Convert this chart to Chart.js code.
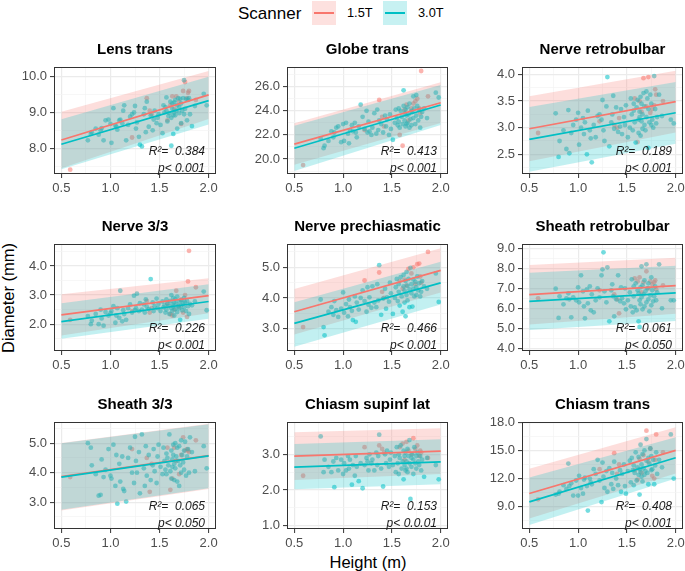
<!DOCTYPE html>
<html>
<head>
<meta charset="utf-8">
<script src="https://cdn.jsdelivr.net/npm/chart.js@4.4.1/dist/chart.umd.min.js"></script>
<style>
  body { margin: 0; width: 685px; height: 571px; overflow: hidden; background: #fff;
         position: relative; font-family: "Liberation Sans", Arial, sans-serif; }
  canvas { position: absolute; }
  .txt { position: absolute; white-space: nowrap; line-height: 1; color: #000; }
  .key { position: absolute; top: 1px; width: 24px; height: 24px; }
  .key span { position: absolute; left: 2px; right: 2px; top: 11px; height: 2px; }
</style>
</head>
<body>
<div class="txt" style="left:238px; top:5px; font-size:17px;">Scanner</div>
<div class="key" style="left:312px; background:rgba(248,118,109,0.22);"><span style="background:#F8766D"></span></div>
<div class="txt" style="left:347px; top:7px; font-size:12.8px;">1.5T</div>
<div class="key" style="left:383px; background:rgba(0,191,196,0.22);"><span style="background:#00BFC4"></span></div>
<div class="txt" style="left:418px; top:7px; font-size:12.8px;">3.0T</div>
<div class="txt" style="left:8px; top:298px; font-size:16.5px; transform:translate(-50%,-50%) rotate(-90deg);">Diameter (mm)</div>
<div class="txt" style="left:368px; top:562px; font-size:16.5px; transform:translate(-50%,-50%);">Height (m)</div>
<div id="grid"></div>
<script>
const panelTitles = ["Lens trans", "Globe trans", "Nerve retrobulbar", "Nerve 3/3", "Nerve prechiasmatic",
  "Sheath retrobulbar", "Sheath 3/3", "Chiasm supinf lat", "Chiasm trans"];

// height (m) of each subject, same for every panel
const height30 = [
  0.77, 0.80, 0.81, 0.85, 0.88, 0.90, 0.91, 0.93, 0.95, 0.98,
  1.00, 1.01, 1.03, 1.05, 1.06, 1.07, 1.09, 1.10, 1.12, 1.13,
  1.14, 1.16, 1.18, 1.20, 1.22, 1.24, 1.25, 1.26, 1.27, 1.29,
  1.30, 1.32, 1.34, 1.35, 1.36, 1.37, 1.39, 1.41, 1.43, 1.44,
  1.45, 1.47, 1.48, 1.49, 1.51, 1.53, 1.54, 1.55, 1.56, 1.57,
  1.57, 1.58, 1.59, 1.60, 1.61, 1.62, 1.62, 1.63, 1.63, 1.64,
  1.64, 1.65, 1.65, 1.66, 1.66, 1.67, 1.68, 1.68, 1.69, 1.70,
  1.70, 1.71, 1.72, 1.72, 1.73, 1.74, 1.75, 1.75, 1.76, 1.77,
  1.78, 1.79, 1.80, 1.81, 1.83, 1.86, 1.95, 1.98];
const height15 = [0.59, 1.22, 1.37, 1.40, 1.42, 1.58, 1.61, 1.63, 1.65, 1.67, 1.70, 1.72, 1.74, 1.76, 1.78, 1.79, 1.80, 1.87];

// diameters (mm), in the order of the heights above
const lensTrans30 = [
  8.22, 8.40, 8.45, 8.55, 8.38, 8.50, 8.56, 8.22, 8.78, 8.80,
  8.68, 8.15, 9.12, 8.63, 8.60, 8.52, 8.78, 8.80, 8.70, 9.05,
  9.20, 8.22, 8.65, 8.88, 8.95, 9.00, 9.18, 8.55, 8.72, 8.32,
  8.10, 8.05, 8.95, 9.12, 8.45, 9.30, 8.60, 8.92, 8.50, 8.80,
  9.05, 8.70, 8.85, 8.95, 8.65, 8.42, 9.20, 9.00, 9.15, 9.42,
  9.05, 8.75, 8.90, 8.98, 9.30, 8.85, 8.07, 9.10, 9.25, 8.92,
  8.40, 9.28, 9.00, 8.92, 9.35, 9.05, 8.55, 9.20, 9.40, 8.98,
  9.15, 9.38, 8.70, 9.25, 9.05, 9.40, 9.90, 8.95, 9.10, 9.38,
  8.78, 9.35, 9.40, 8.95, 8.62, 9.18, 9.52, 9.20];
const lensTrans15 = [7.40, 8.30, 9.40, 9.05, 8.95, 8.78, 9.20, 9.45, 9.10, 9.45, 9.30, 8.68, 9.60, 9.85, 9.40, 9.55, 9.60, 9.35];

const globeTrans30 = [
  21.70, 20.90, 21.10, 21.50, 22.30, 21.80, 22.20, 22.60, 22.70, 21.40,
  22.90, 21.50, 23.00, 22.10, 21.30, 22.40, 22.80, 22.30, 23.00, 22.20,
  21.80, 22.70, 24.50, 23.50, 22.50, 24.00, 22.20, 23.10, 22.30, 22.00,
  22.60, 23.80, 22.10, 24.10, 22.40, 23.20, 22.90, 22.20, 23.60, 22.70,
  23.30, 22.00, 23.70, 22.50, 21.60, 23.00, 24.10, 23.40, 22.80, 24.20,
  23.10, 22.60, 24.00, 23.50, 22.90, 24.40, 25.70, 23.20, 23.80, 22.70,
  24.10, 23.60, 22.90, 24.30, 23.00, 23.70, 22.60, 24.60, 23.30, 24.00,
  22.80, 23.90, 25.20, 23.40, 24.20, 22.90, 25.30, 23.60, 24.40, 23.20,
  24.10, 22.60, 23.50, 23.90, 24.20, 23.40, 25.50, 25.10];
const globeTrans15 = [19.50, 22.40, 24.90, 23.50, 22.70, 22.00, 21.10, 24.10, 24.50, 23.20, 24.20, 24.60, 24.80, 25.00, 24.20, 23.80, 27.30, 25.20];

const nerveRetro30 = [
  3.27, 2.45, 2.75, 2.95, 2.60, 3.33, 2.52, 2.90, 3.05, 3.15,
  3.28, 2.68, 3.00, 3.18, 2.88, 3.10, 2.50, 3.32, 2.95, 2.80,
  2.35, 3.05, 2.82, 3.22, 3.25, 3.15, 3.52, 2.95, 2.75, 3.40,
  3.95, 2.65, 3.10, 3.25, 3.60, 2.98, 3.38, 2.92, 3.02, 3.35,
  2.88, 3.20, 3.05, 3.42, 2.82, 3.00, 3.55, 3.25, 2.95, 3.32,
  3.45, 3.10, 2.72, 3.38, 3.52, 3.15, 2.90, 3.30, 3.20, 2.85,
  3.58, 3.12, 3.45, 2.98, 3.25, 3.65, 3.05, 3.40, 2.95, 3.68,
  3.20, 3.55, 2.62, 3.35, 3.10, 3.62, 3.05, 3.45, 3.15, 3.00,
  3.97, 3.35, 3.08, 3.20, 3.62, 3.22, 3.15, 3.08];
const nerveRetro15 = [2.90, 3.12, 3.05, 3.00, 3.18, 3.55, 2.73, 3.50, 3.30, 3.93, 3.40, 3.95, 3.28, 3.35, 3.42, 3.72, 3.62, 3.50];

const nerve33_30 = [
  2.28, 2.00, 2.12, 2.35, 2.00, 2.50, 2.20, 1.95, 2.42, 2.30,
  2.38, 2.45, 2.62, 2.05, 2.30, 2.55, 2.22, 3.15, 2.10, 2.48,
  2.35, 2.15, 2.55, 2.68, 2.40, 2.98, 2.48, 2.55, 3.05, 2.45,
  2.72, 2.50, 2.68, 2.40, 2.85, 2.60, 2.52, 3.55, 2.75, 2.45,
  2.62, 2.88, 2.55, 2.70, 2.45, 2.78, 2.58, 2.65, 2.40, 2.85,
  2.50, 2.72, 2.62, 2.35, 2.80, 2.55, 3.00, 2.68, 2.45, 2.90,
  2.60, 2.75, 2.30, 2.85, 2.52, 2.70, 2.42, 2.95, 2.62, 2.78,
  2.55, 2.15, 2.82, 2.65, 2.48, 2.72, 2.90, 2.58, 2.75, 2.45,
  2.80, 2.62, 2.35, 2.70, 2.65, 2.78, 3.12, 2.48];
const nerve33_15 = [2.15, 2.45, 2.80, 2.40, 2.55, 2.70, 2.35, 2.30, 2.50, 3.15, 2.60, 2.85, 2.40, 3.00, 2.25, 3.47, 4.52, 3.27];

const nervePrech30 = [
  3.95, 3.05, 2.78, 3.55, 3.70, 3.45, 3.90, 3.60, 3.38, 3.65,
  4.18, 3.52, 3.80, 3.40, 3.95, 3.70, 3.58, 3.28, 4.05, 3.22,
  3.85, 3.62, 4.00, 4.25, 3.90, 3.55, 4.35, 3.78, 4.02, 3.68,
  4.38, 3.85, 3.70, 4.45, 3.92, 5.07, 3.45, 3.98, 4.30, 3.65,
  4.02, 3.88, 4.50, 4.15, 3.48, 4.00, 4.35, 4.62, 3.90, 4.45,
  4.20, 3.75, 4.68, 4.05, 3.55, 4.38, 4.75, 3.85, 4.25, 3.40,
  4.55, 4.10, 4.85, 3.92, 4.40, 4.62, 3.70, 4.28, 4.98, 4.45,
  4.15, 3.72, 4.60, 4.30, 4.05, 4.52, 4.35, 4.10, 4.70, 4.25,
  4.48, 4.05, 4.20, 4.55, 4.38, 4.30, 4.80, 3.87];
const nervePrech15 = [3.05, 4.57, 4.83, 4.20, 4.00, 4.55, 4.30, 4.60, 4.40, 4.95, 4.80, 5.00, 4.45, 5.10, 5.12, 4.70, 4.50, 5.50];

const sheathRetro30 = [
  6.98, 5.52, 6.60, 6.20, 6.50, 6.75, 6.45, 5.55, 6.55, 6.40,
  7.05, 6.30, 7.65, 6.85, 6.10, 5.50, 6.95, 6.25, 7.10, 5.90,
  6.70, 5.80, 6.40, 7.00, 6.55, 7.65, 7.95, 8.80, 6.85, 6.30,
  8.05, 5.35, 6.90, 7.20, 6.60, 5.60, 6.45, 7.65, 6.35, 7.05,
  6.50, 6.25, 7.00, 5.95, 6.40, 6.80, 6.10, 7.45, 5.80, 7.10,
  6.60, 6.05, 7.25, 5.90, 6.90, 5.35, 6.75, 5.07, 6.40, 7.05,
  6.20, 8.10, 6.55, 7.15, 5.95, 6.70, 7.40, 6.10, 6.85, 8.20,
  6.30, 7.00, 6.45, 7.25, 5.85, 6.65, 7.55, 6.15, 6.90, 6.35,
  6.60, 7.10, 6.40, 6.80, 8.20, 6.00, 6.40, 6.40];
const sheathRetro15 = [6.50, 6.90, 6.70, 6.45, 5.75, 7.50, 7.35, 7.55, 6.80, 7.30, 7.85, 7.00, 7.35, 7.20, 7.30, 7.40, 6.95, 7.15];

const sheath33_30 = [
  5.00, 4.85, 4.25, 3.95, 3.22, 3.25, 4.45, 3.85, 4.10, 4.80,
  3.90, 3.80, 4.95, 3.55, 4.60, 2.95, 4.30, 3.70, 4.55, 3.45,
  3.38, 3.02, 4.50, 4.85, 4.00, 3.65, 5.22, 4.40, 4.00, 4.70,
  3.30, 5.30, 4.15, 3.55, 4.90, 3.90, 4.60, 3.75, 4.25, 4.80,
  4.05, 3.65, 4.55, 4.95, 4.20, 3.95, 4.85, 4.40, 4.10, 4.65,
  3.95, 4.50, 4.25, 5.30, 4.05, 4.75, 3.80, 4.45, 4.20, 4.95,
  4.60, 3.75, 4.30, 5.00, 4.15, 4.55, 3.70, 4.85, 4.40, 3.55,
  4.90, 4.25, 5.10, 4.00, 4.60, 4.35, 4.10, 4.75, 5.05, 3.90,
  4.55, 4.80, 4.00, 5.20, 4.70, 4.05, 4.90, 4.15];
const sheath33_15 = [3.85, 4.80, 4.50, 3.35, 4.30, 4.85, 3.42, 3.80, 4.85, 4.40, 3.95, 4.60, 5.20, 4.75, 4.80, 4.75, 4.70, 5.10];

const chiasmSupinf30 = [
  3.50, 2.50, 2.85, 2.65, 2.50, 2.80, 2.08, 2.90, 2.55, 2.85,
  2.45, 2.75, 2.55, 2.95, 2.60, 2.85, 2.15, 2.70, 2.40, 2.95,
  2.65, 2.25, 2.75, 2.05, 2.70, 2.90, 2.80, 2.55, 3.00, 2.75,
  2.85, 2.55, 3.05, 2.70, 2.95, 3.55, 2.60, 2.10, 3.00, 2.75,
  3.10, 2.65, 2.85, 3.05, 2.70, 2.95, 2.50, 3.20, 2.75, 3.00,
  2.45, 2.90, 3.25, 2.60, 2.80, 3.10, 2.30, 2.95, 2.70, 2.55,
  3.05, 2.80, 2.60, 3.15, 2.50, 2.95, 3.40, 2.75, 1.75, 2.90,
  2.65, 3.00, 2.85, 2.45, 3.20, 2.75, 2.95, 2.60, 3.05, 2.80,
  2.70, 2.95, 2.55, 2.85, 2.37, 2.90, 2.70, 2.30];
const chiasmSupinf15 = [2.40, 3.20, 3.25, 3.15, 3.05, 3.20, 3.30, 2.85, 3.35, 3.10, 3.00, 3.45, 3.15, 3.25, 2.95, 3.10, 3.05, 2.90];

const chiasmTrans30 = [
  10.30, 10.40, 10.60, 11.30, 10.90, 13.60, 11.20, 11.50, 10.20, 11.80,
  10.20, 12.30, 11.00, 10.40, 11.90, 12.10, 11.20, 8.60, 12.00, 11.60,
  11.40, 13.00, 12.50, 14.00, 11.80, 9.50, 13.70, 12.20, 11.00, 12.80,
  10.60, 13.10, 11.40, 12.60, 10.90, 13.80, 12.00, 11.30, 12.90, 10.60,
  12.50, 13.50, 11.20, 10.40, 12.80, 13.90, 11.60, 14.20, 12.90, 11.30,
  13.40, 12.60, 14.80, 11.80, 13.20, 12.40, 14.30, 10.30, 13.00, 12.70,
  15.60, 12.20, 13.50, 11.70, 14.60, 13.10, 12.40, 15.00, 12.80, 13.90,
  16.20, 12.60, 14.20, 11.40, 13.60, 15.20, 12.90, 14.40, 13.00, 14.00,
  11.40, 13.40, 14.80, 12.50, 14.00, 13.20, 16.70, 12.00];
const chiasmTrans15 = [9.80, 13.00, 14.70, 12.50, 13.50, 12.90, 11.90, 14.10, 12.60, 14.50, 17.10, 13.80, 15.20, 12.30, 12.00, 14.00, 16.70, 14.80];

const values30 = [lensTrans30, globeTrans30, nerveRetro30, nerve33_30, nervePrech30, sheathRetro30, sheath33_30, chiasmSupinf30, chiasmTrans30];
const values15 = [lensTrans15, globeTrans15, nerveRetro15, nerve33_15, nervePrech15, sheathRetro15, sheath33_15, chiasmSupinf15, chiasmTrans15];

// fitted lines and prediction bands, at height 0.5 and 2.0
const fitX = [0.5, 2.0];
const fit15 = [[8.23, 9.49], [21.24, 24.67], [2.98, 3.49], [2.32, 2.98], [3.55, 4.90], [6.68, 7.13], [3.87, 4.58], [2.95, 3.09], [10.41, 15.00]];
const fit30 = [[8.11, 9.33], [20.89, 24.48], [2.78, 3.28], [2.09, 2.78], [3.17, 4.49], [6.35, 6.77], [3.85, 4.57], [2.64, 2.79], [9.53, 14.22]];
const band15Hi = [[9.02, 10.16], [22.96, 26.36], [3.59, 4.07], [3.03, 3.58], [4.29, 5.62], [8.17, 8.53], [5.01, 5.66], [3.62, 3.73], [13.06, 17.47]];
const band15Lo = [[7.44, 8.82], [19.52, 22.98], [2.37, 2.91], [1.61, 2.38], [2.81, 4.18], [5.19, 5.73], [2.72, 3.45], [2.28, 2.45], [7.76, 12.53]];
const band30Hi = [[8.81, 10.00], [22.77, 26.14], [3.39, 3.86], [2.72, 3.37], [3.86, 5.18], [7.78, 8.13], [5.00, 5.64], [3.29, 3.42], [12.11, 16.41]];
const band30Lo = [[7.41, 8.66], [19.01, 22.82], [2.17, 2.70], [1.50, 2.19], [2.41, 3.79], [4.92, 5.37], [2.74, 3.47], [2.02, 2.16], [7.06, 12.00]];

const r2Labels = ["0.384", "0.413", "0.189", "0.226", "0.466", "0.061", "0.065", "0.153", "0.408"];
const pLabels = ["p< 0.001", "p< 0.001", "p< 0.001", "p< 0.001", "p< 0.001", "p< 0.050", "p< 0.050", "p< 0.0.01", "p< 0.001"];

const xTicks = [0.5, 1.0, 1.5, 2.0];
const xRange = [0.425, 2.075];
const yTicks = [[8, 9, 10], [20, 22, 24, 26], [2.5, 3, 3.5, 4], [2, 3, 4], [3, 4, 5], [4, 5, 6, 7, 8, 9], [3, 4, 5], [1, 2, 3], [9, 12, 15, 18]];
const yRanges = [[7.28, 10.27], [18.76, 27.63], [2.13, 4.14], [1.08, 4.755], [2.27, 5.76], [3.865, 9.215], [2.09, 5.72], [0.91, 3.905], [6.64, 18.02]];

// layout
const RED = "#F8766D", CYAN = "#00BFC4";
const FONT = '"Liberation Sans", Arial, sans-serif';
const colX = [54, 287, 522], colW = [162, 161, 161];
const rowY = [67, 244, 422], plotH = 107;
const AXW = 50, TOP = 30, BOT = 24, RIGHT = 14;

// major ticks plus the ggplot-style minor ones half way between
function withMinor(majors, lo, hi) {
  const half = (majors[1] - majors[0]) / 2;
  const out = [];
  for (let k = -1; k <= 2 * (majors.length - 1) + 1; k++) {
    const v = Math.round((majors[0] + k * half) * 1e6) / 1e6;
    if (v >= lo && v <= hi) out.push({ value: v, minor: k % 2 !== 0 });
  }
  return out;
}

const panelDecor = {
  id: "panelDecor",
  afterDraw(chart, args, opts) {
    const { ctx, chartArea: a } = chart;
    ctx.save();
    ctx.strokeStyle = "#333333";
    ctx.lineWidth = 1;
    ctx.strokeRect(a.left + 0.5, a.top + 0.5, a.right - a.left - 1, a.bottom - a.top - 1);
    ctx.fillStyle = "#000";
    ctx.textAlign = "center";
    ctx.textBaseline = "middle";
    ctx.font = "bold 15px " + FONT;
    ctx.fillText(opts.title, (a.left + a.right) / 2, a.top - 17.5);
    ctx.textAlign = "right";
    ctx.font = "italic 12px " + FONT;
    ctx.fillStyle = "#1a1a1a";
    ctx.fillText("R\u00b2=  " + opts.r2, a.right - 11, a.bottom - 22);
    ctx.fillText(opts.p, a.right - 11, a.bottom - 5.5);
    ctx.restore();
  }
};

const isMinor = c => c.tick && c.tick.minor;
function axis(ticksFn, range, horizontal) {
  return {
    type: "linear",
    min: range[0],
    max: range[1],
    afterBuildTicks: s => { s.ticks = ticksFn(); },
    afterFit: s => {
      if (horizontal) s.height = BOT; else s.width = AXW;
      s.paddingLeft = 0; s.paddingRight = 0; s.paddingTop = 0; s.paddingBottom = 0;
    },
    border: { display: false },
    grid: {
      color: c => isMinor(c) ? "#F3F3F3" : "#EBEBEB",
      lineWidth: c => isMinor(c) ? 0.7 : 1.2,
      tickColor: c => isMinor(c) ? "rgba(0,0,0,0)" : "#333333",
      tickLength: 4,
      tickWidth: 1
    },
    ticks: {
      autoSkip: false,
      maxRotation: 0,
      padding: 3,
      color: "#4D4D4D",
      font: { size: 13, family: FONT },
      callback: (v, i, t) => t[i].minor ? "" : v.toFixed(1)
    }
  };
}

const pts = (xs, ys) => xs.map((x, i) => ({ x: x, y: ys[i] }));
const seg = ys => fitX.map((x, i) => ({ x: x, y: ys[i] }));
const noLine = { showLine: true, borderColor: "rgba(0,0,0,0)", borderWidth: 0, pointRadius: 0 };

const host = document.getElementById("grid");
panelTitles.forEach((title, k) => {
  const col = k % 3, row = Math.floor(k / 3);
  const cv = document.createElement("canvas");
  const w = AXW + colW[col] + RIGHT, h = TOP + plotH + BOT;
  cv.width = w; cv.height = h;
  cv.style.left = (colX[col] - AXW) + "px";
  cv.style.top = (rowY[row] - TOP) + "px";
  cv.style.width = w + "px"; cv.style.height = h + "px";
  host.appendChild(cv);

  new Chart(cv, {
    type: "line",
    data: {
      datasets: [
        { data: pts(height15, values15[k]), showLine: false, pointRadius: 2.4, pointBorderWidth: 0,
          pointBorderColor: "rgba(0,0,0,0)", pointBackgroundColor: "rgba(248,118,109,0.55)", order: 6 },
        { data: pts(height30, values30[k]), showLine: false, pointRadius: 2.4, pointBorderWidth: 0,
          pointBorderColor: "rgba(0,0,0,0)", pointBackgroundColor: "rgba(0,191,196,0.55)", order: 5 },
        Object.assign({ data: seg(band15Hi[k]), fill: "+1", backgroundColor: "rgba(248,118,109,0.24)", order: 4 }, noLine),
        Object.assign({ data: seg(band15Lo[k]), fill: false, order: 4 }, noLine),
        Object.assign({ data: seg(band30Hi[k]), fill: "+1", backgroundColor: "rgba(0,191,196,0.24)", order: 3 }, noLine),
        Object.assign({ data: seg(band30Lo[k]), fill: false, order: 3 }, noLine),
        { data: seg(fit15[k]), showLine: true, borderColor: RED, borderWidth: 1.7, pointRadius: 0, order: 2 },
        { data: seg(fit30[k]), showLine: true, borderColor: CYAN, borderWidth: 1.7, pointRadius: 0, order: 1 }
      ]
    },
    options: {
      responsive: false,
      animation: false,
      devicePixelRatio: 1,
      events: [],
      layout: { padding: { top: TOP, right: RIGHT, left: 0, bottom: 0 } },
      plugins: {
        legend: { display: false },
        tooltip: { enabled: false },
        panelDecor: { title: title, r2: r2Labels[k], p: pLabels[k] }
      },
      scales: {
        x: axis(() => withMinor(xTicks, xRange[0], xRange[1]), xRange, true),
        y: axis(() => withMinor(yTicks[k], yRanges[k][0], yRanges[k][1]), yRanges[k], false)
      }
    },
    plugins: [panelDecor]
  });
});
</script>
</body>
</html>
